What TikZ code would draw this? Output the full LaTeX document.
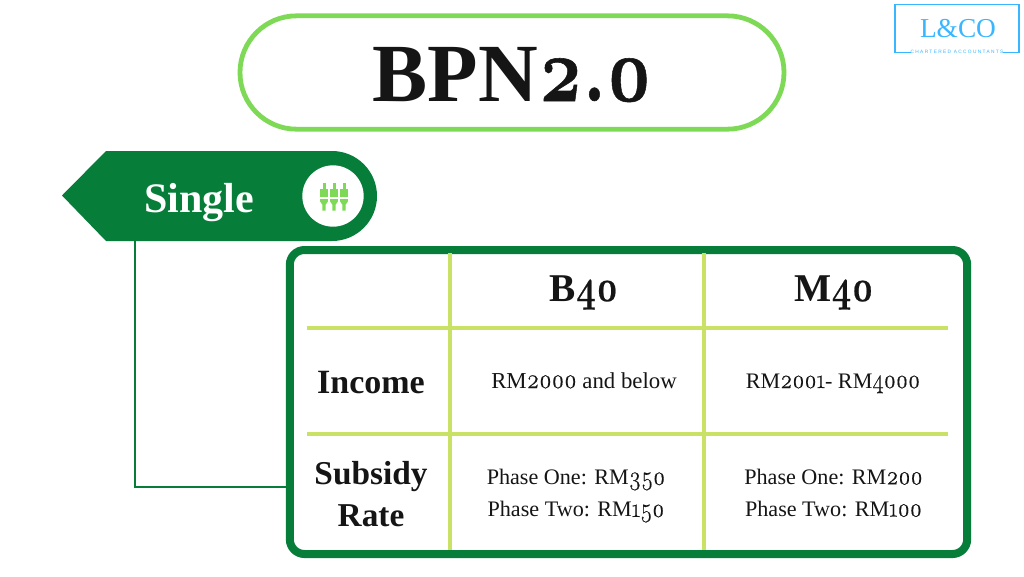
\documentclass[tikz,border=0pt]{standalone}
\usepackage{fontspec}
\usepackage{graphicx}
\setmainfont{Liberation Serif}
\newfontfamily\lmo{Latin Modern Roman}[Numbers=OldStyle,BoldFeatures={FakeBold=0.6}]
\newfontfamily\lmc{Latin Modern Roman}[Numbers=OldStyle,UprightFeatures={FakeBold=0.5}]
\newfontfamily\logofont{Liberation Sans}[LetterSpace=28]
\newcommand{\od}[1]{\scalebox{.88}[1.12]{\lmo #1}}
\newcommand{\cd}[1]{\scalebox{1.05}[1.2]{\lmc #1}}
\definecolor{lightg}{HTML}{7ED957}
\definecolor{darkg}{HTML}{067D38}
\definecolor{lime}{HTML}{C9E265}
\definecolor{logob}{HTML}{38B6FF}
\definecolor{ink}{HTML}{151515}
\newcommand{\fs}[1]{\fontsize{#1}{#1}\selectfont}
\tikzset{
 titlebox/.style={draw=lightg,line width=3.6pt,rounded corners=42.4pt,fill=white,minimum width=408pt,minimum height=85pt,inner sep=0pt},
 tablebox/.style={draw=darkg,line width=6pt,rounded corners=11pt,fill=white,minimum width=508pt,minimum height=228pt,inner sep=0pt},
 vrule/.style={draw=lime,line width=2.3pt},
 hrule/.style={draw=lime,line width=2.4pt},
 head/.style={font=\bfseries\fs{29.5},text=ink,inner sep=0pt,anchor=base},
 rowhead/.style={font=\bfseries\fs{25},text=ink,inner sep=0pt,align=center},
 cell/.style={font=\fs{16.6},text=ink,inner sep=0pt,align=center},
 link/.style={draw=darkg,line width=1.6pt},
 plug/.style={fill=lightg,draw=none},
}
\begin{document}
\begin{tikzpicture}[x=0.75pt,y=-0.75pt]
\useasboundingbox (0,0) rectangle (1024,576);
\fill[white] (0,0) rectangle (1024,576);
% title
\node[titlebox] (title) at (512,72.5) {};
\node[font=\bfseries\fs{62},text=ink,inner sep=0pt,anchor=base] (titletext) at (512.5,101) {BPN\od{2.0}};
% logo
\draw[logob,line width=1.1pt] (911,52.5) -- (895,52.5) -- (895,4.5) -- (1019,4.5) -- (1019,52.5) -- (1003,52.5);
\node[font=\fs{20.5},text=logob,inner sep=0pt] (logo) at (958,29) {L\&CO};
\node[font=\logofont\fs{3.6},text=logob,inner sep=0pt] (logosub) at (957,52) {CHARTERED ACCOUNTANTS};
% connector ends
\coordinate (foot) at (135,240);
% table
\node[tablebox] (tbl) at (628.5,402) {};
\draw[link] (foot) |- (tbl.west |- 0,487);
% banner
\fill[darkg] (62,195.5) -- (106,151) -- (332,151) arc[start angle=90,end angle=-90,radius=33.75pt] -- (106,241) -- cycle;
\node[font=\bfseries\fs{31.5},text=white,inner sep=0pt,anchor=base] (single) at (199,212) {Single};
\node[circle,fill=white,minimum size=46pt,inner sep=0pt] (icon) at (333,196) {};
\foreach \x in {324,334,344}{
  \fill[plug] (\x-1.5,183) rectangle (\x+1.5,189.5);
  \fill[plug] (\x-3.7,189) rectangle (\x+3.7,197);
  \fill[plug] (\x-3.9,199) -- (\x+3.9,199) -- (\x+3.9,201.5) -- (\x+1.7,204.5) -- (\x+1.7,210.5) -- (\x-1.7,210.5) -- (\x-1.7,204.5) -- (\x-3.9,201.5) -- cycle;
}
% rules
\coordinate (va1) at (450,253); \coordinate (va2) at (450,550);
\coordinate (vb1) at (704,253); \coordinate (vb2) at (704,550);
\coordinate (ha1) at (307,328); \coordinate (ha2) at (948,328);
\coordinate (hb1) at (307,434); \coordinate (hb2) at (948,434);
\draw[vrule] (va1) -- (va2);
\draw[vrule] (vb1) -- (vb2);
\draw[hrule] (ha1) -- (ha2);
\draw[hrule] (hb1) -- (hb2);
% table text
\node[head] (b40) at (584,301) {B\od{40}};
\node[head] (m40) at (834,301) {M\od{40}};
\node[rowhead,font=\bfseries\fs{25.5},anchor=base] (inc) at (371,393) {Income};
\node[rowhead] (sub) at (371,494) {Subsidy\\[6pt]Rate};
\node[cell,font=\fs{17.1},anchor=base] (c1) at (584,388) {RM\cd{2000} and below};
\node[cell,anchor=base] (c2) at (833,388) {RM\cd{2001}- RM\cd{4000}};
\node[cell] (c3) at (576,496) {Phase One: RM\cd{350}\\[7.5pt]Phase Two: RM\cd{150}};
\node[cell] (c4) at (833.5,493) {Phase One: RM\cd{200}\\[7.5pt]Phase Two: RM\cd{100}};
\end{tikzpicture}
\end{document}
